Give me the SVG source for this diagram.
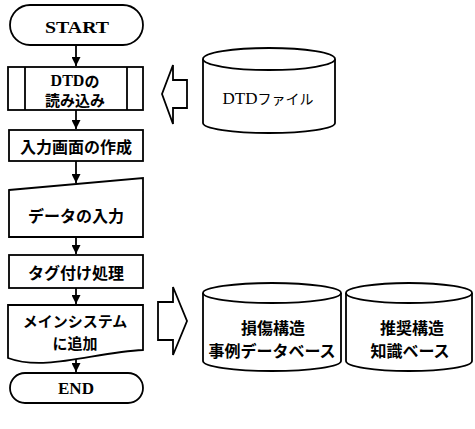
<svg xmlns="http://www.w3.org/2000/svg" width="475" height="429" viewBox="0 0 475 429">
<defs>
<style>
.s{fill:#fff;stroke:#000;stroke-width:1.8}
.ln{fill:none;stroke:#000;stroke-width:1.8}
.jp{font-family:"Noto Sans CJK JP","Noto Sans",sans-serif;font-weight:bold;font-size:16px;text-anchor:middle;dominant-baseline:central;fill:#000}
.en{font-family:"Liberation Serif",serif;font-weight:bold;font-size:17px;text-anchor:middle;dominant-baseline:central;fill:#000}
.ser{font-family:"Liberation Serif",serif}
</style>
<marker id="ah" viewBox="0 0 10 10" refX="10" refY="5" markerWidth="9" markerHeight="9" markerUnits="userSpaceOnUse" orient="auto">
<path d="M0,0 L10,5 L0,10 Z" fill="#000"/>
</marker>
</defs>
<rect width="475" height="429" fill="#fff"/>

<g id="connectors">
<line class="ln" x1="76" y1="45" x2="76" y2="66" marker-end="url(#ah)"/>
<line class="ln" x1="76" y1="110" x2="76" y2="129" marker-end="url(#ah)"/>
<line class="ln" x1="76" y1="161" x2="76" y2="183" marker-end="url(#ah)"/>
<line class="ln" x1="76" y1="237" x2="76" y2="254" marker-end="url(#ah)"/>
<line class="ln" x1="76" y1="288" x2="76" y2="304" marker-end="url(#ah)"/>
<line class="ln" x1="76" y1="359" x2="76" y2="372" marker-end="url(#ah)"/>
<path class="s" d="M187,80 L173,80 L173,65 L162,94 L173,124 L173,108 L187,108 Z"/>
<path class="s" d="M158,302 L173,302 L173,287 L187,321 L173,355 L173,340 L158,340 Z"/>
</g>

<g id="start">
<rect class="s" x="10" y="5" width="133" height="40" rx="20" ry="20"/>
<text class="en" x="77" y="27" textLength="64" lengthAdjust="spacingAndGlyphs">START</text>
</g>

<g id="dtd-read">
<rect class="s" x="8" y="67" width="135" height="43"/>
<line class="ln" x1="25" y1="67" x2="25" y2="110"/>
<line class="ln" x1="127" y1="67" x2="127" y2="110"/>
<text class="jp" x="75" y="80" style="font-size:15px"><tspan class="ser" style="font-size:16px">DTD</tspan>の</text>
<text class="jp" x="75" y="99" style="font-size:15px">読み込み</text>
</g>

<g id="input-screen">
<rect class="s" x="9" y="130" width="134" height="31"/>
<text class="jp" x="76" y="146">入力画面の作成</text>
</g>

<g id="data-input">
<path class="s" d="M9,190 L143,178 L143,237 L9,237 Z"/>
<text class="jp" x="76" y="215">データの入力</text>
</g>

<g id="tagging">
<rect class="s" x="9" y="255" width="134" height="33"/>
<text class="jp" x="76" y="272">タグ付け処理</text>
</g>

<g id="main-system">
<path class="s" d="M8,305 L143,305 L143,350 C95,352 45,372 8,358 Z"/>
<text class="jp" x="75" y="320" style="font-size:15px">メインシステム</text>
<text class="jp" x="75" y="342" style="font-size:15px">に追加</text>
</g>

<g id="end">
<rect class="s" x="10" y="373" width="133" height="30" rx="15" ry="15"/>
<text class="en" x="76" y="388" textLength="36" lengthAdjust="spacingAndGlyphs">END</text>
</g>

<g id="dtd-file">
<path class="s" d="M203,59 L203,123 A66,10 0 0 0 335,123 L335,59"/>
<ellipse class="s" cx="269" cy="59" rx="66" ry="11"/>
<text x="268" y="98" style="font-family:'Noto Sans CJK JP',sans-serif;font-size:14px;text-anchor:middle;dominant-baseline:central;fill:#000"><tspan class="ser" style="font-size:17px">DTD</tspan>ファイル</text>
</g>

<g id="damage-db">
<path class="s" d="M203,293 L203,361 A69,10 0 0 0 341,361 L341,293"/>
<ellipse class="s" cx="272" cy="293" rx="69" ry="10"/>
<text class="jp" x="273" y="327">損傷構造</text>
<text class="jp" x="272" y="350">事例データベース</text>
</g>

<g id="recommend-db">
<path class="s" d="M346,293 L346,361 A63,10 0 0 0 472,361 L472,293"/>
<ellipse class="s" cx="409" cy="293" rx="63" ry="10"/>
<text class="jp" x="412" y="327">推奨構造</text>
<text class="jp" x="410" y="350">知識ベース</text>
</g>
</svg>
